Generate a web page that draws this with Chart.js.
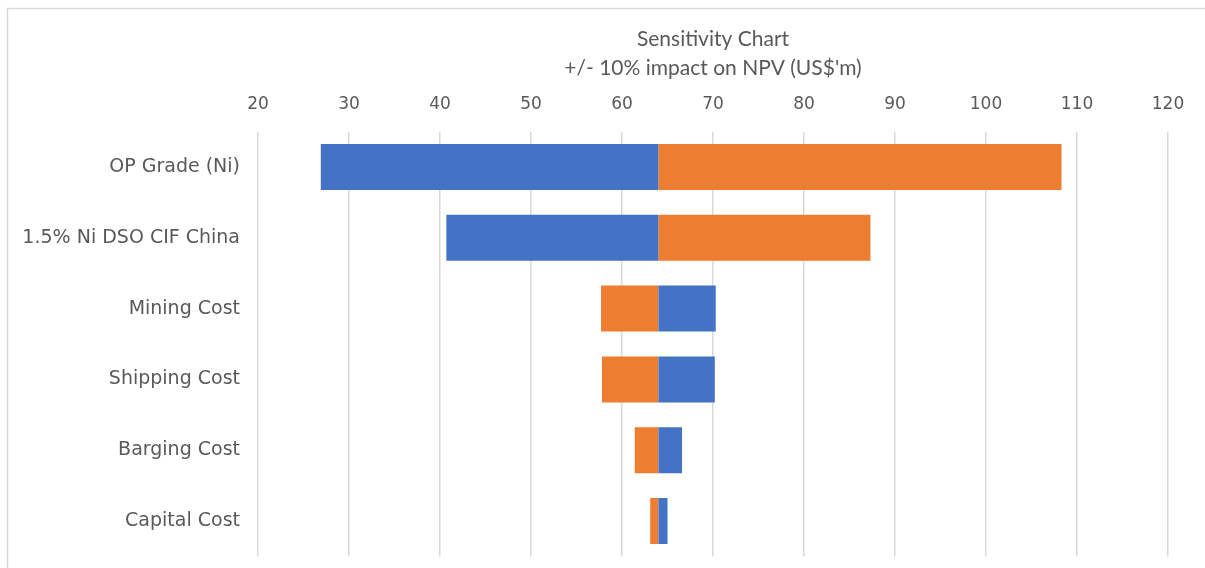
<!DOCTYPE html>
<html>
<head>
<meta charset="utf-8">
<title>Sensitivity Chart</title>
<script src="https://cdn.jsdelivr.net/npm/chart.js@4/dist/chart.umd.min.js"></script>
<style>
  html, body { margin: 0; padding: 0; background: #ffffff; }
  #wrap { width: 1205px; height: 568px; position: relative; }
</style>
</head>
<body>
<div id="wrap"><canvas id="chart"></canvas></div>
<script>
// Sensitivity drivers, top to bottom
const categories = ['OP Grade (Ni)', '1.5% Ni DSO CIF China', 'Mining Cost', 'Shipping Cost', 'Barging Cost', 'Capital Cost'];
// Base-case NPV (US$'m)
const baseNPV = 64;
// NPV after a -10% change in each driver
const minus10 = [26.9, 40.7, 70.3, 70.2, 66.6, 65.0];
// NPV after a +10% change in each driver
const plus10 = [108.3, 87.3, 57.7, 57.8, 61.4, 63.1];
// Axis range and tick step
const axisMin = 20, axisMax = 120, axisStep = 10;
const titleLines = ['Sensitivity Chart', "+/- 10% impact on NPV (US$'m)"];

const textColor = '#595959';
const gridColor = '#d9d9d9';
const labelFont = '"DejaVu Sans", sans-serif';

// Title lines centred over the plot area
const titlePlugin = {
  id: 'plotTitle',
  afterDraw(chart) {
    const { ctx, chartArea } = chart;
    const cx = (chartArea.left + chartArea.right) / 2;
    ctx.save();
    ctx.fillStyle = textColor;
    ctx.font = '21px Lato, "Open Sans", sans-serif';
    ctx.textAlign = 'center';
    ctx.textBaseline = 'middle';
    ctx.fillText(titleLines[0], cx, 39);
    ctx.fillText(titleLines[1], cx, 68);
    ctx.restore();
  }
};

// Light frame along the top and left edges
const framePlugin = {
  id: 'frame',
  beforeDraw(chart) {
    const { ctx, width, height } = chart;
    ctx.save();
    ctx.strokeStyle = gridColor;
    ctx.lineWidth = 1.5;
    ctx.beginPath();
    ctx.moveTo(7.5, height);
    ctx.lineTo(7.5, 8.5);
    ctx.lineTo(width, 8.5);
    ctx.stroke();
    ctx.restore();
  }
};

new Chart(document.getElementById('chart'), {
  type: 'bar',
  data: {
    labels: categories,
    datasets: [
      {
        label: '-10%',
        data: minus10.map(v => [baseNPV, v]),
        backgroundColor: '#4472C4',
        borderWidth: 0,
        grouped: false,
        barPercentage: 0.65,
        categoryPercentage: 1
      },
      {
        label: '+10%',
        data: plus10.map(v => [baseNPV, v]),
        backgroundColor: '#ED7D31',
        borderWidth: 0,
        grouped: false,
        barPercentage: 0.65,
        categoryPercentage: 1
      }
    ]
  },
  options: {
    indexAxis: 'y',
    responsive: true,
    maintainAspectRatio: false,
    animation: false,
    layout: { padding: { left: 8, top: 85, right: 37, bottom: 11.6 } },
    plugins: {
      legend: { display: false },
      tooltip: { enabled: false },
      title: { display: false }
    },
    scales: {
      x: {
        position: 'top',
        min: axisMin,
        max: axisMax,
        ticks: {
          stepSize: axisStep,
          color: textColor,
          font: { family: labelFont, size: 17 },
          padding: 0,
          maxRotation: 0
        },
        grid: { color: gridColor, lineWidth: 1.5, drawTicks: true, tickLength: 17, tickColor: 'rgba(0,0,0,0)' },
        border: { display: false },
        afterFit(scale) { scale.height = 46.6; }
      },
      y: {
        ticks: {
          color: textColor,
          font: { family: labelFont, size: 19 },
          padding: 0
        },
        grid: { display: true, drawOnChartArea: false, drawTicks: true, tickLength: 18, tickColor: 'rgba(0,0,0,0)' },
        border: { display: false },
        afterFit(scale) { scale.width = 250; }
      }
    }
  },
  plugins: [framePlugin, titlePlugin]
});
</script>
</body>
</html>
